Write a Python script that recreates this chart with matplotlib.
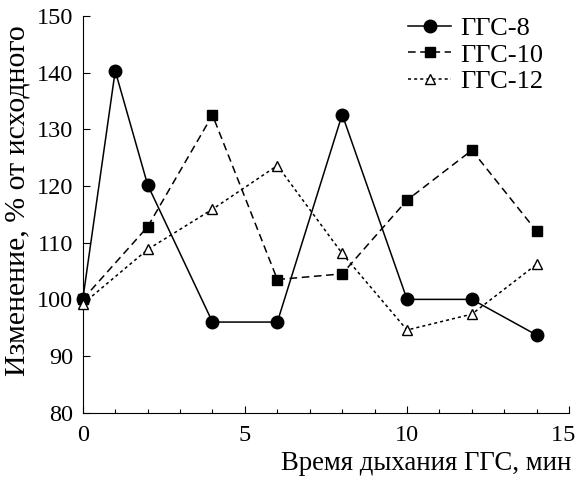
import matplotlib
matplotlib.use("Agg")
import matplotlib.pyplot as plt
from matplotlib.ticker import MultipleLocator

plt.rcParams['font.family'] = ['Liberation Serif', 'DejaVu Serif']

# minutes of breathing
t = [0, 1, 2, 4, 6, 8, 10, 12, 14]
t10 = [0, 2, 4, 6, 8, 10, 12, 14]
ggs8 = [100, 140.3, 120.2, 96, 96, 132.6, 100, 100, 93.7]
ggs10 = [100, 112.8, 132.5, 103.5, 104.5, 117.5, 126.3, 112]
ggs12 = [99.2, 108.8, 115.9, 123.6, 108.1, 94.6, 97.4, 106.2]
xticks = [0, 5, 10, 15]
# en space after 15 keeps the last label inside the figure
xlabels = ['0', '5', '10', '15\u2002']

fig = plt.figure(figsize=(5.79, 4.8), dpi=100)
ax = fig.add_axes([0.143, 0.14, 0.84, 0.827])

ax.plot(t, ggs8, color='black', lw=1.1, marker='o', ms=9,
        label='ГГС-8', clip_on=False, zorder=3)
ax.plot(t10, ggs10, color='black', lw=1.1, dashes=(5, 3), marker='s', ms=7,
        label='ГГС-10', clip_on=False, zorder=3)
ax.plot(t10, ggs12, color='black', lw=1.1, dashes=(2, 2), marker='^', ms=7.5,
        mfc='white', mew=1.0, label='ГГС-12', clip_on=False, zorder=3)

#format
ax.set_xlim(0, 15)
ax.set_ylim(80, 150)
ax.set_xticks(xticks, xlabels)
ax.xaxis.set_minor_locator(MultipleLocator(1))
ax.yaxis.set_major_locator(MultipleLocator(10))
ax.tick_params(direction='in', labelsize=17.5, length=5, width=0.8)
ax.tick_params(axis='x', pad=9)
ax.tick_params(axis='y', pad=7)
ax.tick_params(which='minor', direction='in', length=3, width=0.8)
for s in ['top', 'right']:
    ax.spines[s].set_visible(False)

ax.set_xlabel('Время дыхания ГГС, мин', fontsize=19.3, loc='right')
ax.xaxis.set_label_coords(1.004, -0.095)
ax.set_ylabel('Изменение, % от исходного', fontsize=21.5)
ax.yaxis.set_label_coords(-0.108, 0.535)

ax.legend(loc='upper right', bbox_to_anchor=(0.995, 1.058), frameon=False,
          fontsize=19, handlelength=1.6, labelspacing=0.12, handletextpad=0.35)

fig.savefig('out.png', dpi=100)
